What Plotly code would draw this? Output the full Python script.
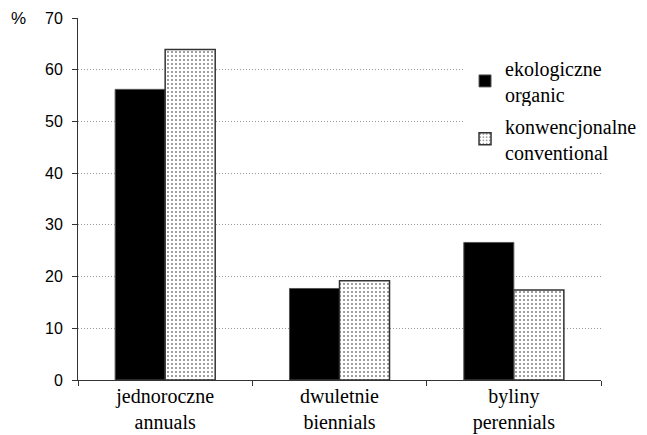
import plotly.graph_objects as go

categories = ["jednoroczne<br>annuals", "dwuletnie<br>biennials", "byliny<br>perennials"]
organic = [56.2, 17.7, 26.6]
conventional = [63.9, 19.2, 17.4]
series_names = ["ekologiczne<br>organic", "konwencjonalne<br>conventional"]
y_ticks = [0, 10, 20, 30, 40, 50, 60, 70]

fig = go.Figure()
fig.add_trace(go.Bar(
    x=categories, y=organic, name=series_names[0], legend="legend",
    marker=dict(color="black", line=dict(color="#555", width=1)),
))
fig.add_trace(go.Bar(
    x=categories, y=conventional, name=series_names[1], legend="legend2",
    marker=dict(color="white", line=dict(color="#333", width=1.5),
                pattern=dict(shape=".", fgcolor="black", bgcolor="white", size=4, solidity=0.2)),
))

legend_font = dict(family="Liberation Serif", size=20, color="black")
fig.update_layout(
    width=647, height=435,
    margin=dict(l=70, r=54, t=10, b=63, autoexpand=False),
    plot_bgcolor="white", paper_bgcolor="white",
    barmode="group", bargap=0.426, bargroupgap=0,
    showlegend=True,
    legend=dict(x=0.74, y=0.916, xanchor="left", yanchor="top", bgcolor="white",
                font=legend_font, borderwidth=0, tracegroupgap=0),
    legend2=dict(x=0.74, y=0.756, xanchor="left", yanchor="top", bgcolor="white",
                 font=legend_font, borderwidth=0, tracegroupgap=0),
    xaxis=dict(
        automargin=False,
        showline=True, linecolor="#333", linewidth=1,
        ticks="outside", tickson="boundaries", ticklen=5, tickcolor="#333",
        tickfont=dict(family="Liberation Serif", size=20, color="black"),
        ticklabelstandoff=-2,
        showgrid=False,
    ),
    yaxis=dict(
        automargin=False,
        range=[0, 70], tickvals=y_ticks,
        showline=True, linecolor="#333", linewidth=1,
        ticks="outside", ticklen=5, tickcolor="#333",
        tickfont=dict(family="Liberation Sans", size=16, color="black"),
        ticklabelstandoff=6,
        showgrid=True, gridcolor="#999", griddash="1px,2px", gridwidth=1,
        zeroline=False,
    ),
    annotations=[dict(text="%", xref="paper", yref="paper", x=-0.113, y=1.0,
                      xanchor="center", yanchor="middle", showarrow=False,
                      font=dict(family="Liberation Sans", size=17, color="black"))],
)

fig.write_html("out.html")
